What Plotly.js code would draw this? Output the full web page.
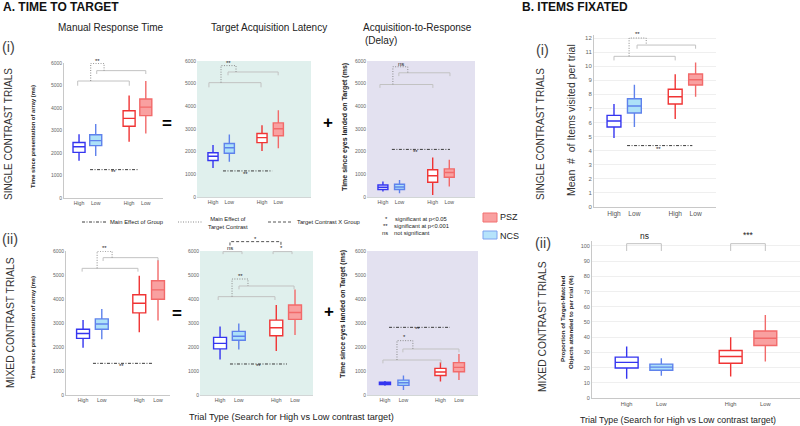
<!DOCTYPE html>
<html><head><meta charset="utf-8">
<script src="https://cdn.plot.ly/plotly-3.0.1.min.js"></script>
<style>html,body{margin:0;padding:0;background:#fff}#chart{width:800px;height:426px}</style>
</head><body><div id="chart"></div>
<script>
// ---------------- data ----------------
const categories = ['High', 'Low', 'High', 'Low'];
const groups = ['NCS', 'NCS', 'PSZ', 'PSZ'];
const catPos = [1, 2, 4, 5];
const msTicks = [0, 1000, 2000, 3000, 4000, 5000, 6000];
const itemTicks = [0, 1, 2, 3, 4, 5, 6, 7, 8, 9, 10, 11, 12];
const propTicks = [0, 10, 20, 30, 40, 50, 60, 70, 80, 90, 100];

// Manual response time, single contrast (ms)
const mrtS_lo  = [1660, 1870, 2500, 2870];
const mrtS_q1  = [2030, 2330, 3190, 3660];
const mrtS_med = [2280, 2550, 3540, 4040];
const mrtS_q3  = [2470, 2810, 3880, 4400];
const mrtS_hi  = [2830, 3290, 4560, 5200];
// Target acquisition latency, single contrast
const talS_lo  = [1280, 1550, 2030, 2150];
const talS_q1  = [1610, 1930, 2400, 2700];
const talS_med = [1800, 2170, 2620, 3010];
const talS_q3  = [1950, 2360, 2800, 3270];
const talS_hi  = [2290, 2760, 3170, 3830];
// Acquisition-to-response, single contrast
const atrS_lo  = [240, 160, 90, 460];
const atrS_q1  = [330, 330, 650, 870];
const atrS_med = [430, 440, 940, 1080];
const atrS_q3  = [530, 560, 1200, 1240];
const atrS_hi  = [680, 750, 1740, 1640];
// Items visited per trial, single contrast
const itmS_lo  = [4.90, 5.68, 6.25, 7.83];
const itmS_q1  = [5.68, 6.67, 7.31, 8.66];
const itmS_med = [6.11, 7.17, 7.83, 9.04];
const itmS_q3  = [6.51, 7.69, 8.36, 9.44];
const itmS_hi  = [7.31, 8.69, 9.42, 10.27];
// Manual response time, mixed contrast
const mrtM_lo  = [1970, 2320, 2610, 3100];
const mrtM_q1  = [2360, 2740, 3420, 3990];
const mrtM_med = [2560, 2960, 3820, 4380];
const mrtM_q3  = [2740, 3170, 4180, 4760];
const mrtM_hi  = [3130, 3580, 4970, 5620];
// Target acquisition latency, mixed contrast
const talM_lo  = [1480, 1900, 1830, 2500];
const talM_q1  = [1920, 2280, 2470, 3150];
const talM_med = [2150, 2450, 2800, 3440];
const talM_q3  = [2400, 2650, 3120, 3750];
const talM_hi  = [2850, 2980, 3750, 4400];
// Acquisition-to-response, mixed contrast
const atrM_lo  = [390, 210, 560, 620];
const atrM_q1  = [440, 400, 810, 970];
const atrM_med = [490, 510, 960, 1150];
const atrM_q3  = [530, 620, 1110, 1350];
const atrM_hi  = [580, 810, 1360, 1710];
// Proportion of target-matched objects, mixed contrast (%)
const prpM_lo  = [12.7, 14.6, 14.2, 24.0];
const prpM_q1  = [19.7, 18.3, 22.9, 34.5];
const prpM_med = [23.4, 20.3, 27.3, 39.3];
const prpM_q3  = [26.9, 22.3, 31.2, 44.1];
const prpM_hi  = [33.8, 26.2, 40.0, 54.6];

// ---------------- styling / layout ----------------
const W = 800, H = 426;
const FONT = 'Liberation Sans, Arial, Helvetica, sans-serif';
const TEAL = '#e0f0ed', LAV = '#e3e1f0';
const boxLine = ['#3535f0', '#5f82ec', '#f03434', '#f26a6a'];
const boxFill = ['#ffffff', '#ade1f8', '#ffffff', '#f9a0a0'];
const BR = '#c2c2c2', DOT = '#8a8a8a', GRP = '#3a3a3a';
const GRPDASH = '3px,1.5px,1px,1.5px';
const DOTDASH = '1px,1.5px';

const panels = [
  {s:'', px:[64,163], py:[63,198], xr:[0.1,6.03], yr:[0,6000], yt:msTicks,
   st:[mrtS_lo,mrtS_q1,mrtS_med,mrtS_q3,mrtS_hi], bw:0.72, bg:null, yline:true, ytf:5, xtf:5.2, grid:false,
   sig:{lo:[0.92,4.01,5200,4990], up:[2.06,5.0,5660,5510], dot:[1.70,2.5,5200,5985,5660], lab:[2.12,6100,'**'],
        grp:[1.66,4.55,1260], glab:[3.05,1140,'**']}},
  {s:'2', px:[197,311], py:[61,197], xr:[0.02,7.0], yr:[0,6000], yt:msTicks,
   st:[talS_lo,talS_q1,talS_med,talS_q3,talS_hi], bw:0.62, bg:TEAL, bgTop:6000, yline:false, ytf:5, xtf:5.2, grid:false,
   sig:{lo:[0.75,3.94,5044,4838], up:[1.92,4.99,5516,5369], dot:[1.49,2.41,5044,5796,5516], lab:[1.92,5910,'**'],
        grp:[1.61,4.62,1150], glab:[3.02,1030,'**']}},
  {s:'3', px:[367,475], py:[61,197], xr:[0.04,6.55], yr:[0,6000], yt:msTicks,
   st:[atrS_lo,atrS_q1,atrS_med,atrS_q3,atrS_hi], bw:0.6, bg:LAV, bgTop:6000, yline:false, ytf:5, xtf:5.2, grid:false,
   sig:{lo:[0.82,4.01,4963,4815], up:[1.96,5.04,5480,5332], dot:[1.6,2.5,4963,5746,5480], lab:[2.08,5870,'ns'],
        grp:[1.54,5.04,2100], glab:[2.99,1990,'**']}},
  {s:'4', px:[594,716], py:[35.2,207], xr:[0.02,6.0], yr:[0,12.2], yt:itemTicks,
   st:[itmS_lo,itmS_q1,itmS_med,itmS_q3,itmS_hi], bw:0.68, bg:null, yline:true, ytf:6, xtf:6.6, grid:true,
   sig:{lo:[1.0,4.0,10.7,10.41], up:[2.13,5.0,11.5,11.24], dot:[1.74,2.58,10.7,12.0,11.5], lab:[2.13,12.27,'**'],
        grp:[1.64,4.84,4.36], glab:[3.17,4.12,'**']}},
  {s:'5', px:[66,170], py:[251,395], xr:[0.09,5.64], yr:[0,6000], yt:msTicks,
   st:[mrtM_lo,mrtM_q1,mrtM_med,mrtM_q3,mrtM_hi], bw:0.69, bg:null, yline:true, ytf:5, xtf:5.2, grid:false,
   sig:{lo:[0.95,3.93,5278,5139], up:[2.07,5.0,5722,5583], dot:[1.75,2.55,5278,5990,5722], lab:[2.12,6120,'**'],
        grp:[1.53,4.68,1319], glab:[3.03,1222,'**']}},
  {s:'6', px:[200,313], py:[234.2,395], xr:[-0.07,5.96], yr:[0,6700], yt:msTicks,
   st:[talM_lo,talM_q1,talM_med,talM_q3,talM_hi], bw:0.69, bg:TEAL, bgTop:6000, yline:false, ytf:5, xtf:5.2, grid:false,
   sig:{lo:[0.9,3.93,4097,3958], up:[2.01,4.95,4542,4403], dot:[1.64,2.49,4097,4833,4542], lab:[2.07,4950,'**'],
        grp:[1.53,4.57,1292], glab:[3.03,1208,'**'],
        inter:{b1:[1.16,2.17,5975,5870], b2:[3.83,4.84,5975,5870], dash:[1.53,4.25,6230,6390],
               labs:[[1.53,6110,'ns'],[4.27,6110,'*'],[2.9,6480,'*']]}}},
  {s:'7', px:[367,478], py:[251,395], xr:[0.03,6.03], yr:[0,6000], yt:msTicks,
   st:[atrM_lo,atrM_q1,atrM_med,atrM_q3,atrM_hi], bw:0.6, bg:LAV, bgTop:6000, yline:false, ytf:5, xtf:5.2, grid:false,
   sig:{lo:[0.89,4.03,1458,1319], up:[1.97,5.0,1917,1778], dot:[1.65,2.51,1458,2264,1917], lab:[2.08,2400,'*'],
        grp:[1.22,4.51,2819], glab:[2.78,2730,'**']}},
  {s:'8', px:[592,800], py:[241.4,398], xr:[0,6], yr:[0,103], yt:propTicks,
   st:[prpM_lo,prpM_q1,prpM_med,prpM_q3,prpM_hi], bw:0.66, bg:null, yline:true, ytf:5.5, xtf:5.7, grid:true,
   pairs:[[1,2,101.5,96.7,'ns',106.8],[4,5,101.5,96.7,'***',107.5]]}
];

// ---------------- helpers ----------------
const X = px => px / W;
const Y = py => 1 - py / H;
function xpx(p, v){ return p.px[0] + (v - p.xr[0]) / (p.xr[1] - p.xr[0]) * (p.px[1] - p.px[0]); }
function ypx(p, v){ return p.py[1] - (v - p.yr[0]) / (p.yr[1] - p.yr[0]) * (p.py[1] - p.py[0]); }

const traces = [];
const shapes = [];
const annotations = [];

function txt(px, py, text, size, opts){
  annotations.push(Object.assign({xref:'paper', yref:'paper', x:X(px), y:Y(py), text:text, showarrow:false,
    xanchor:'center', yanchor:'middle', font:{family:FONT, size:size, color:'#222'}}, opts || {}));
}
function ptxt(p, xv, yv, text, size){
  txt(xpx(p, xv), ypx(p, yv), text, size, {font:{family:FONT, size:size, color:'#222'}});
}
function dline(p, x0, y0, x1, y1, color, dash){
  shapes.push({type:'line', xref:'x'+p.s, yref:'y'+p.s, x0:x0, y0:y0, x1:x1, y1:y1,
    line:{color:color, width:1, dash:dash || 'solid'}, layer:'above'});
}
function bracket(p, b, color, dash){
  const [x0, x1, y, yt] = b;
  dline(p, x0, y, x1, y, color, dash);
  dline(p, x0, y, x0, yt, color, dash);
  dline(p, x1, y, x1, yt, color, dash);
}
function pline(x0, y0, x1, y1, color, dash){
  shapes.push({type:'line', xref:'paper', yref:'paper', x0:X(x0), y0:Y(y0), x1:X(x1), y1:Y(y1),
    line:{color:color, width:1, dash:dash || 'solid'}});
}

const layout = {
  width: W, height: H, margin:{l:0, r:0, t:0, b:0}, autosize:false,
  paper_bgcolor:'#ffffff', plot_bgcolor:'rgba(0,0,0,0)', showlegend:false,
  font:{family:FONT, color:'#222'}
};

panels.forEach(p => {
  const [lo, q1, med, q3, hi] = p.st;
  for (let i = 0; i < 4; i++) {
    traces.push({type:'box', name:groups[i] + ' ' + categories[i], x:[catPos[i]],
      lowerfence:[lo[i]], q1:[q1[i]], median:[med[i]], q3:[q3[i]], upperfence:[hi[i]],
      xaxis:'x' + p.s, yaxis:'y' + p.s, width:p.bw, whiskerwidth:0, boxpoints:false,
      fillcolor:boxFill[i], line:{color:boxLine[i], width:1.4}, showlegend:false, hoverinfo:'skip'});
  }
  layout['xaxis' + p.s] = {domain:[X(p.px[0]), X(p.px[1])], range:p.xr, anchor:'y' + p.s,
    tickmode:'array', tickvals:catPos, ticktext:categories, tickfont:{family:FONT, size:p.xtf, color:'#555'},
    showline:true, linecolor:p.bg ? '#d2d6d6' : '#c8c8c8', linewidth:1, showgrid:false, zeroline:false,
    ticks:'', fixedrange:true};
  layout['yaxis' + p.s] = {domain:[Y(p.py[1]), Y(p.py[0])], range:p.yr, anchor:'x' + p.s,
    tickmode:'array', tickvals:p.yt, tickfont:{family:FONT, size:p.ytf, color:'#666'},
    showline:p.yline, linecolor:'#c8c8c8', linewidth:1, showgrid:p.grid, gridcolor:'#efefef', gridwidth:1,
    zeroline:false, ticks:'', fixedrange:true};
  if (p.bg) {
    shapes.push({type:'rect', xref:'paper', yref:'paper', x0:X(p.px[0]), x1:X(p.px[1]),
      y0:Y(p.py[1]), y1:Y(ypx(p, p.bgTop)), fillcolor:p.bg, line:{width:0}, layer:'below'});
  }
  if (p.sig) {
    const g = p.sig;
    bracket(p, g.lo, BR);
    bracket(p, g.up, BR);
    const d = g.dot;
    shapes.push({type:'path', xref:'x' + p.s, yref:'y' + p.s,
      path:'M' + d[0] + ',' + d[2] + ' L' + d[0] + ',' + d[3] + ' L' + d[1] + ',' + d[3] + ' L' + d[1] + ',' + d[4],
      line:{color:DOT, width:1, dash:DOTDASH}, layer:'above'});
    ptxt(p, g.lab[0], g.lab[1], g.lab[2], 6);
    dline(p, g.grp[0], g.grp[2], g.grp[1], g.grp[2], GRP, GRPDASH);
    ptxt(p, g.glab[0], g.glab[1], g.glab[2], 6);
    if (g.inter) {
      const it = g.inter;
      bracket(p, it.b1, BR);
      bracket(p, it.b2, BR);
      const q = it.dash;
      shapes.push({type:'path', xref:'x' + p.s, yref:'y' + p.s,
        path:'M' + q[0] + ',' + q[2] + ' L' + q[0] + ',' + q[3] + ' L' + q[1] + ',' + q[3] + ' L' + q[1] + ',' + q[2],
        line:{color:'#555', width:1, dash:'3px,2px'}, layer:'above'});
      it.labs.forEach(l => ptxt(p, l[0], l[1], l[2], 6));
    }
  }
  if (p.pairs) {
    p.pairs.forEach(pr => {
      bracket(p, [pr[0], pr[1], pr[2], pr[3]], BR);
      ptxt(p, (pr[0] + pr[1]) / 2, pr[5], pr[4], 8.5);
    });
  }
});

// ---- figure texts ----
txt(1, 7, 'A. TIME TO TARGET', 12, {xanchor:'left', font:{family:FONT, size:12, color:'#111', weight:'bold'}});
txt(520, 7, 'B. ITEMS FIXATED', 12, {xanchor:'left', font:{family:FONT, size:12, color:'#111', weight:'bold'}});
txt(110, 27, 'Manual Response Time', 10);
txt(269, 27, 'Target Acquisition Latency', 10);
txt(361, 27, 'Acquisition-to-Response', 10, {xanchor:'left'});
txt(363, 41, '(Delay)', 10, {xanchor:'left'});
txt(0, 47, '(i)', 14.5, {xanchor:'left', font:{family:FONT, size:14.5, color:'#444'}});
txt(0, 239, '(ii)', 14.5, {xanchor:'left', font:{family:FONT, size:14.5, color:'#444'}});
txt(542, 50, '(i)', 14.5, {font:{family:FONT, size:14.5, color:'#444'}});
txt(543, 243, '(ii)', 14.5, {font:{family:FONT, size:14.5, color:'#444'}});
txt(8, 134, 'SINGLE CONTRAST TRIALS', 10, {textangle:-90, font:{family:FONT, size:10, color:'#333'}});
txt(10, 323, 'MIXED CONTRAST TRIALS', 10.3, {textangle:-90, font:{family:FONT, size:10.3, color:'#333'}});
txt(540, 134, 'SINGLE CONTRAST TRIALS', 10, {textangle:-90, font:{family:FONT, size:10, color:'#333'}});
txt(542, 327, 'MIXED CONTRAST TRIALS', 10.3, {textangle:-90, font:{family:FONT, size:10.3, color:'#333'}});

// axis titles
txt(33, 137, 'Time since presentation of array (ms)', 5.8, {textangle:-90, font:{family:FONT, size:5.8, color:'#222', weight:'bold'}});
txt(33, 328, 'Time since presentation of array (ms)', 5.8, {textangle:-90, font:{family:FONT, size:5.8, color:'#222', weight:'bold'}});
txt(345, 127, 'Time since eyes landed on Target (ms)', 7, {textangle:-90, font:{family:FONT, size:7, color:'#222', weight:'bold'}});
txt(343, 314, 'Time since eyes landed on Target (ms)', 7, {textangle:-90, font:{family:FONT, size:7, color:'#222', weight:'bold'}});
txt(571, 120, 'Mean  #  of Items visited per trial', 10.5, {textangle:-90, font:{family:FONT, size:10.5, color:'#333'}});
txt(566, 322, 'Proportion of Target-Matched<br>Objects attended to per trial (%)', 6.2,
    {textangle:-90, align:'right', font:{family:FONT, size:6.2, color:'#222', weight:'bold'}});
txt(291, 417, 'Trial Type (Search for High vs Low contrast target)', 9.2);
txt(678, 420, 'Trial Type (Search for High vs Low contrast target)', 8.8);

// operators
txt(167, 123, '=', 17, {font:{family:FONT, size:17, color:'#000', weight:'bold'}});
txt(328, 122, '+', 17, {font:{family:FONT, size:17, color:'#000', weight:'bold'}});
txt(177, 313, '=', 17, {font:{family:FONT, size:17, color:'#000', weight:'bold'}});
txt(329, 311, '+', 17, {font:{family:FONT, size:17, color:'#000', weight:'bold'}});

// line-style legend
pline(82, 222, 107, 222, GRP, GRPDASH);
txt(108, 222, 'Main Effect of Group', 5.8, {xanchor:'left'});
pline(178, 222, 203, 222, DOT, DOTDASH);
txt(228, 223, 'Main Effect of<br>Target Contrast', 5.8);
pline(268, 222, 293, 222, '#555', '3px,2px');
txt(295, 222, 'Target Contrast X Group', 5.8, {xanchor:'left'});
txt(386, 219, '*', 6);
txt(393, 219, 'significant at p&lt;0.05', 5.8, {xanchor:'left'});
txt(385, 226, '**', 6);
txt(392, 226, 'significant at p&lt;0.001', 5.8, {xanchor:'left'});
txt(385, 233, 'ns', 5.8);
txt(392, 233, 'not significant', 5.8, {xanchor:'left'});

// group legend
shapes.push({type:'rect', xref:'paper', yref:'paper', x0:X(483), x1:X(497), y0:Y(222), y1:Y(213),
  fillcolor:'#f9a0a0', line:{color:'#f27070', width:1}});
shapes.push({type:'rect', xref:'paper', yref:'paper', x0:X(483), x1:X(497), y0:Y(239), y1:Y(231),
  fillcolor:'#b5e3fb', line:{color:'#7da2f0', width:1}});
txt(498, 217, 'PSZ', 9, {xanchor:'left'});
txt(498, 236, 'NCS', 9, {xanchor:'left'});

layout.shapes = shapes;
layout.annotations = annotations;

Plotly.newPlot('chart', traces, layout, {staticPlot:true, displayModeBar:false});
</script>
</body></html>
